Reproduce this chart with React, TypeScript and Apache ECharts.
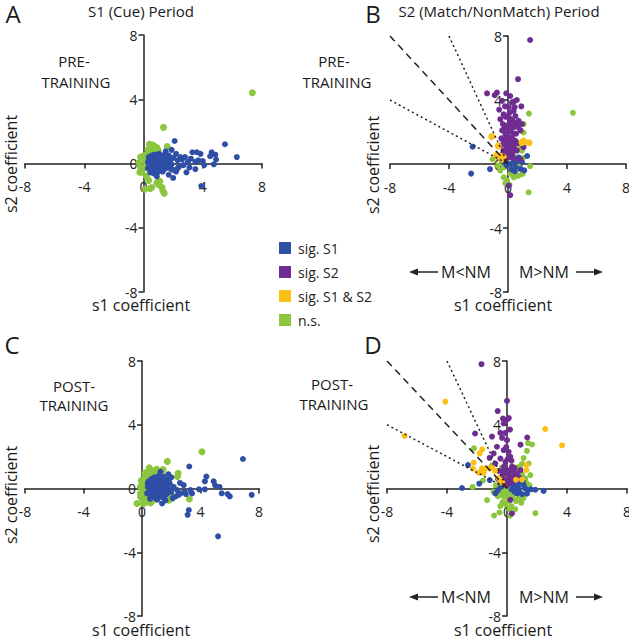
import React, { useEffect, useRef } from "react";
import * as echarts from "echarts";

const FONT = "'Open Sans', 'Noto Sans', sans-serif";
const C_S1 = "#2f4fa6";
const C_S2 = "#6f2c91";
const C_S12 = "#fbbf16";
const C_NS = "#8cc63f";

const CATEGORIES = ["sig. S1", "sig. S2", "sig. S1 & S2", "n.s."];
const AXIS_TICKS = [-8, -4, 0, 4, 8];

// Panel A: S1 (Cue) period, pre-training
const aS1 = [
  [0.3,0.1],[0.4,-0.1],[0.5,0.2],[0.5,-0.3],[0.6,0.0],[0.6,0.4],[0.7,-0.2],[0.7,0.25],[0.8,0.05],[0.8,-0.45],
  [0.9,0.3],[0.9,-0.1],[1.0,0.15],[1.0,-0.3],[1.1,0.45],[1.1,0.0],[1.2,-0.2],[1.2,0.3],[1.3,0.1],[1.3,-0.5],
  [1.4,0.2],[1.4,-0.1],[1.5,0.35],[1.5,-0.3],[1.6,0.05],[1.7,0.5],[1.7,-0.2],[1.8,0.2],[1.9,-0.05],[2.0,0.35],
  [2.0,-0.4],[0.35,0.4],[0.45,-0.55],[0.55,0.5],[0.65,-0.6],[0.75,0.55],[0.85,0.0],[0.95,-0.55],[1.05,0.6],[1.15,-0.45],
  [0.4,0.25],[0.5,-0.15],[0.6,-0.4],[0.7,0.1],[0.8,0.35],[0.9,0.55],[1.0,-0.05],[1.25,0.5],[1.35,-0.35],[1.45,0.5],
  [0.3,-0.3],[0.35,0.0],[1.55,-0.15],[1.65,0.3],[1.75,0.05],[1.85,-0.35],
  [2.1,1.4],[2.2,0.6],[2.3,0.2],[2.4,-0.2],[2.5,0.4],[2.6,0.25],[2.7,-0.1],[2.8,0.4],[2.9,-0.55],[3.0,0.1],
  [3.1,-0.25],[3.2,0.3],[3.3,0.7],[3.5,0.1],[3.5,-0.35],[3.6,0.7],[3.7,0.2],[3.85,0.6],[4.0,0.15],[4.1,-0.1],
  [4.5,0.45],[4.6,0.7],[4.75,-0.05],[4.85,0.55],[4.9,0.25],[5.5,1.2],[6.3,0.4],[3.9,-1.4],[1.7,-0.7],[0.9,-0.8],
  [2.3,-0.3],[2.2,-0.5],[1.9,0.85],[1.5,0.75],[2.0,-0.9]
];
const aNS = [
  [1.35,2.25],[7.35,4.4],[0.4,1.2],[0.7,1.1],[0.9,1.0],[1.0,0.8],[1.6,1.05],[0.5,0.9],[0.75,0.75],[0.3,0.6],
  [0.2,0.35],[-0.2,0.4],[-0.3,0.05],[-0.2,-0.25],[-0.1,-0.55],[0.2,-0.8],[0.35,-1.05],[0.55,-1.5],[0.1,-1.6],[1.0,-1.3],
  [1.25,-1.5],[1.4,-1.85],[0.9,-1.2],[0.8,-0.65],[-0.25,-0.55],[0.1,0.2],[0.15,-0.1],[0.05,0.5],[0.3,0.85],[1.1,-1.1],
  [0.6,1.15],[0.45,-1.55],[1.3,-1.7],[0.0,-0.3],[0.25,0.15]
];

// Panel B: S2 (Match/NonMatch) period, pre-training
const bS1 = [
  [-2.4,1.08],[-2.5,-0.6],[-1.22,-0.32],[1.3,0.5],[0.72,0.41],[0.5,-0.21],[0.84,-0.31],[0.16,0.0],[0.38,0.1],[-0.07,-0.1],
  [0.61,0.21],[-0.41,0.21],[-0.63,0.41],[0.25,-0.35],[0.95,0.1],[-0.2,0.05],[0.45,-0.45],[1.1,-0.4]
];
const bS2 = [
  [1.5,7.75],[0.68,5.3],[-1.42,4.42],[-0.75,4.46],[-0.12,4.42],[0.15,4.25],[-0.4,3.95],[0.27,3.85],[0.4,3.9],[0.9,3.6],
  [0.05,3.55],[0.38,3.32],[-0.3,3.1],[0.5,3.0],[0.72,2.7],[-0.52,2.8],[0.15,2.6],[-0.08,2.4],[0.95,2.5],[0.85,2.1],
  [-0.4,2.1],[-0.18,1.88],[0.38,1.88],[0.15,1.66],[-0.3,1.45],[0.05,1.35],[0.5,1.45],[-0.52,1.15],[-0.07,1.05],[0.27,0.93],
  [-0.3,0.83],[0.05,0.73],[0.38,1.15],[-0.18,0.52],[0.15,0.42],[0.6,0.83],[1.05,1.05],[0.84,0.3],[0.05,-1.35],[0.15,-1.95],
  [-0.2,3.6],[0.1,3.2],[-0.15,2.95],[0.3,2.75],[-0.35,2.5],[0.4,2.3],[0.0,2.2],[-0.25,2.25],[0.2,2.05],[0.55,1.9],
  [-0.1,1.65],[0.3,1.55],[-0.45,1.6],[0.65,1.3],[0.2,1.25],[-0.2,1.2],[0.45,0.95],[-0.1,0.9],[0.15,0.75],[-0.35,0.65],
  [0.3,0.6],[0.0,0.45],[-0.05,1.95],[0.25,2.4],[-0.6,3.4],[0.6,4.0],[-0.9,4.3],[0.45,3.55],[0.1,2.85],[-0.2,1.4],
  [0.05,1.1],[0.35,0.35],[-0.25,0.3],[0.7,2.3],[0.55,2.55]
];
const bS12 = [
  [-1.1,1.72],[-0.66,1.12],[-0.54,0.5],[-0.32,0.44],[-0.77,0.54],[-0.45,0.3],[1.05,1.43],[1.42,1.33],[0.95,1.35]
];
const bNS = [
  [4.4,3.2],[1.42,3.15],[1.06,2.49],[1.06,1.97],[0.84,1.04],[0.95,0.83],[1.02,0.37],[1.5,-0.13],[1.4,-1.77],[-0.52,-0.41],
  [-0.29,-0.83],[0.16,-0.62],[0.5,-0.52],[0.72,-0.73],[0.38,-0.83],[-0.07,-1.04],[-0.18,-1.2],[0.36,0.44],[-1.04,0.29],[-0.43,0.0],
  [0.99,-0.62],[0.6,-0.75],[-0.7,-0.1],[0.2,-0.25],[-0.25,-0.2],[0.1,-1.3],[0.8,-0.15]
];

// Panel C: S1 (Cue) period, post-training
const cS1 = [
  [0.4,0.1],[0.5,-0.2],[0.6,0.3],[0.6,-0.5],[0.7,0.0],[0.8,0.4],[0.8,-0.3],[0.9,0.15],[0.9,-0.6],[1.0,0.5],
  [1.0,-0.1],[1.1,0.25],[1.1,-0.4],[1.2,0.05],[1.2,0.6],[1.3,-0.25],[1.3,0.35],[1.4,-0.55],[1.4,0.1],[1.5,0.45],
  [1.5,-0.15],[1.6,0.2],[1.7,-0.35],[1.7,0.55],[1.8,0.0],[1.9,0.3],[2.0,-0.2],[0.45,0.45],[0.55,-0.65],[0.65,0.6],
  [0.75,-0.15],[0.85,0.7],[0.95,0.35],[1.05,-0.7],[1.15,0.8],[1.25,-0.5],[1.35,0.7],[1.45,0.3],[1.55,-0.45],[1.65,0.0],
  [0.5,0.2],[0.7,-0.4],[0.9,-0.2],[1.1,0.0],[1.3,0.15],[0.35,-0.3],[0.4,0.3],[0.6,0.1],[0.8,0.15],[1.0,0.2],
  [1.2,-0.3],
  [1.26,1.05],[1.48,0.73],[1.83,0.52],[1.71,0.31],[1.94,-0.21],[2.17,0.1],[2.4,-0.1],[2.63,-0.31],[2.85,0.21],[1.37,-0.94],
  [3.31,-0.1],[3.42,-0.31],[3.23,1.38],[4.4,0.75],[4.3,0.45],[4.9,0.45],[5.0,0.2],[5.3,0.1],[5.45,-0.3],[5.85,-0.35],
  [6.0,-0.5],[7.5,-0.4],[6.9,1.85],[4.3,-0.05],[3.9,-0.05],[3.2,-1.35],[3.12,-1.65],[5.2,-3.0],[2.3,-0.5],[2.6,0.35],
  [2.0,0.7],[2.1,-0.6],[2.5,-0.4],[3.0,-0.35],[1.6,-0.75],[1.8,0.9],[2.9,-0.2]
];
const cNS = [
  [4.1,2.3],[1.73,1.7],[2.47,0.96],[2.42,0.75],[3.24,-0.66],[0.5,1.3],[0.57,0.94],[0.46,0.73],[0.11,0.52],[0.0,0.31],
  [-0.11,0.1],[-0.11,-0.31],[0.0,-0.63],[-0.34,-0.94],[0.23,-0.84],[0.46,-0.84],[1.83,-0.73],[2.05,-0.63],[1.14,1.05],[1.37,0.84],
  [1.44,1.19],[0.0,0.25],[0.3,1.0],[0.7,1.1],[0.9,0.9],[0.2,0.7],[0.35,0.3],[0.15,-0.1],[0.25,-0.45],[0.6,-0.9],
  [0.8,-0.7],[-0.1,-0.5],[0.1,-0.95],[0.4,0.6],[0.65,0.8],[1.0,1.2],[2.1,-0.5],[1.6,-0.6],[0.05,0.05],[0.3,-0.7],
  [-0.05,0.5],[0.2,0.95],[0.55,-0.3],[0.15,0.3]
];

// Panel D: S2 (Match/NonMatch) period, post-training
const dS1 = [
  [-2.6,1.47],[-3.0,0.03],[-1.85,0.3],[-1.15,0.53],[0.67,0.31],[0.89,0.63],[1.11,0.21],[1.22,0.0],[1.38,-0.1],[1.89,-0.08],
  [2.44,-0.15],[0.67,-0.31],[0.56,0.0],[1.33,-0.33],[0.33,0.31],[-0.78,-0.31],[0.8,-0.2],[1.0,-0.35],[0.5,-0.2],[0.45,0.15],
  [0.9,0.4],[1.6,-0.05],[0.75,0.05],[-0.4,0.1],[-0.6,-0.1],[0.3,-0.05],[1.05,0.45],[0.6,0.45]
];
const dS2 = [
  [-1.7,7.8],[0.0,5.5],[-0.62,4.86],[-0.27,4.39],[0.0,4.33],[0.12,4.42],[-0.22,4.08],[-2.13,3.45],[-0.44,3.49],[-0.11,3.49],
  [1.35,3.2],[-0.33,3.18],[0.0,3.03],[-0.67,2.62],[-0.22,2.41],[0.11,2.3],[-0.89,2.2],[-1.16,1.92],[-0.44,1.88],[0.22,1.99],
  [-0.78,1.57],[-0.11,1.67],[-0.22,1.36],[0.33,1.36],[0.0,1.15],[0.44,1.05],[0.11,0.84],[-0.33,0.73],[0.56,0.84],[-0.11,0.52],
  [0.22,0.52],[-0.44,0.42],[0.67,0.63],[0.89,1.15],[0.0,0.21],[0.33,-1.57],[0.22,-0.71],[-1.0,3.26],[0.9,2.75],[-0.55,1.1],
  [0.35,0.7],[0.5,1.3],[-0.05,0.95],[0.25,1.15],[0.65,0.95],[-0.3,1.05],[0.15,0.35],[0.45,0.45],[-0.2,0.25],[0.75,0.75],
  [-0.6,0.6],[0.3,1.75],[-0.05,2.6],[0.05,1.85],[0.2,3.7]
];
const dS12 = [
  [-6.83,3.3],[-4.11,5.45],[2.55,3.73],[3.67,2.7],[-1.65,2.46],[-1.82,2.2],[-2.22,1.62],[-1.67,1.26],[-1.44,1.26],[-1.22,1.26],
  [-1.56,0.98],[-0.56,0.65],[-0.44,0.52],[1.3,1.47],[1.3,1.16],[1.0,0.56],[-2.27,1.24],[-1.0,1.3],[-0.8,1.1],[-1.9,1.0],
  [0.6,0.55],[-0.3,0.35]
];
const dNS = [
  [-2.2,2.52],[1.4,2.85],[1.67,2.76],[1.33,2.36],[1.89,-1.55],[-0.86,-1.7],[-2.29,0.1],[-1.33,-0.73],[1.44,1.57],[1.56,0.84],
  [1.22,0.63],[-1.0,1.46],[1.11,1.91],[0.0,-0.2],[0.2,-0.4],[-0.2,-0.5],[0.4,-0.6],[-0.4,-0.3],[0.1,-0.8],[-0.1,-1.0],
  [0.3,-1.1],[0.6,-0.8],[0.8,-0.6],[-0.6,-0.5],[-0.3,-0.85],[0.5,-0.3],[0.0,-0.6],[0.15,-1.3],[-0.15,-0.15],[0.2,0.2],
  [0.4,0.9],[0.6,1.1],[0.9,1.2],[1.0,0.9],[0.75,1.35],[-0.2,0.8],[0.1,1.1],[0.35,1.4],[1.3,0.35],[1.1,-0.6],
  [0.95,-0.9],[-0.75,0.2],[-0.9,-0.2],[0.55,-1.3],[-0.45,-1.1],[0.0,0.05],[0.3,0.0],[-0.1,0.3],[0.7,-0.1],[1.5,0.2],
  [-1.6,0.5],[-0.5,-1.5],[0.2,-1.7],[1.0,1.55],[-0.35,1.3]
];

// Reference lines (slopes) in S2 panels
const refDotted1 = [[-8, 4], [0, 0]];
const refDashed = [[-8, 8], [0, 0]];
const refDotted2 = [[-4, 8], [0, 0]];

const GRIDS = [
  { left: 25, top: 35, width: 237, height: 257 },
  { left: 390, top: 36, width: 236, height: 256 },
  { left: 25, top: 361, width: 234, height: 255 },
  { left: 387, top: 361, width: 240, height: 255 },
];

export default function App() {
  const ref = useRef<HTMLDivElement>(null);
  useEffect(() => {
    if (!ref.current) return;
    const chart = echarts.init(ref.current, null, { renderer: "svg" });
    const axisCommon = {
      type: "value",
      min: AXIS_TICKS[0],
      max: AXIS_TICKS[AXIS_TICKS.length - 1],
      interval: AXIS_TICKS[1] - AXIS_TICKS[0],
      splitLine: { show: false },
      axisLine: { show: true, onZero: false, lineStyle: { color: "#222", width: 1.5 } },
      axisTick: { show: true, length: 5, lineStyle: { color: "#222", width: 1.5 } },
    };
    // axes are centred in each grid (they cross at 0,0)
    const xAxes = GRIDS.map((g, i) => ({
      ...axisCommon,
      gridIndex: i,
      position: "bottom",
      offset: -g.height / 2,
      axisLabel: { margin: 16, fontSize: 14, color: "#222", fontFamily: FONT },
    }));
    const yAxes = GRIDS.map((g, i) => ({
      ...axisCommon,
      gridIndex: i,
      position: "left",
      offset: -g.width / 2,
      axisLabel: { margin: 6, fontSize: 14, color: "#222", fontFamily: FONT },
    }));
    const sc = (name: string, color: string, data: number[][], idx: number, size = 6) => ({
      type: "scatter",
      name,
      xAxisIndex: idx,
      yAxisIndex: idx,
      data,
      symbolSize: size,
      itemStyle: { color, opacity: 1 },
      silent: true,
    });
    const refLine = (data: number[][], idx: number, dash: any) => ({
      type: "line",
      xAxisIndex: idx,
      yAxisIndex: idx,
      data,
      symbol: "none",
      silent: true,
      z: 3,
      lineStyle: { color: "#222", width: 1.5, type: dash },
    });
    const series: any[] = [
      sc(CATEGORIES[3], C_NS, aNS, 0, 7),
      sc(CATEGORIES[0], C_S1, aS1, 0),
      sc(CATEGORIES[3], C_NS, bNS, 1),
      sc(CATEGORIES[0], C_S1, bS1, 1),
      sc(CATEGORIES[1], C_S2, bS2, 1),
      sc(CATEGORIES[2], C_S12, bS12, 1, 7),
      sc(CATEGORIES[3], C_NS, cNS, 2, 7),
      sc(CATEGORIES[0], C_S1, cS1, 2),
      sc(CATEGORIES[3], C_NS, dNS, 3),
      sc(CATEGORIES[0], C_S1, dS1, 3),
      sc(CATEGORIES[1], C_S2, dS2, 3),
      sc(CATEGORIES[2], C_S12, dS12, 3),
      refLine(refDotted1, 1, [2, 3]),
      refLine(refDashed, 1, [7, 5]),
      refLine(refDotted2, 1, [2, 3]),
      refLine(refDotted1, 3, [2, 3]),
      refLine(refDashed, 3, [7, 5]),
      refLine(refDotted2, 3, [2, 3]),
    ];
    const txt = (text: string, x: number, y: number, size: number, extra: any = {}) => ({
      type: "text",
      x,
      y,
      silent: true,
      ...extra,
      style: {
        text,
        fontSize: size,
        fontFamily: FONT,
        fill: "#1a1a1a",
        textAlign: "center",
        textVerticalAlign: "middle",
        align: "center",
        verticalAlign: "middle",
      },
    });
    const arrows = (y: number) => [
      { type: "line", silent: true, shape: { x1: 414, y1: y, x2: 438, y2: y }, style: { stroke: "#222", lineWidth: 1.5 } },
      { type: "polygon", silent: true, shape: { points: [[409, y], [418, y - 3.5], [418, y + 3.5]] }, style: { fill: "#222" } },
      txt("M<NM", 466, y, 16),
      txt("M>NM", 544, y, 16),
      { type: "line", silent: true, shape: { x1: 576, y1: y, x2: 598, y2: y }, style: { stroke: "#222", lineWidth: 1.5 } },
      { type: "polygon", silent: true, shape: { points: [[603, y], [594, y - 3.5], [594, y + 3.5]] }, style: { fill: "#222" } },
    ];
    const rot = { rotation: Math.PI / 2 };
    const graphic: any[] = [
      txt("A", 13, 13, 24),
      txt("S1 (Cue) Period", 141, 11, 15),
      txt("B", 373, 13, 24),
      txt("S2 (Match/NonMatch) Period", 499, 11, 15),
      txt("C", 12, 344, 24),
      txt("D", 373, 344, 24),
      txt("PRE-", 74, 61, 15),
      txt("TRAINING", 76, 82, 15),
      txt("PRE-", 334, 61, 15),
      txt("TRAINING", 337, 82, 15),
      txt("POST-", 74, 386, 15),
      txt("TRAINING", 74, 405, 15),
      txt("POST-", 332, 384, 15),
      txt("TRAINING", 334, 404, 15),
      txt("s2 coefficient", 11, 164, 16, rot),
      txt("s2 coefficient", 373, 165, 16, rot),
      txt("s2 coefficient", 11, 495, 16, rot),
      txt("s2 coefficient", 373, 494, 16, rot),
      txt("s1 coefficient", 141, 305, 16),
      txt("s1 coefficient", 503, 305, 16),
      txt("s1 coefficient", 141, 630, 16),
      txt("s1 coefficient", 503, 630, 16),
      ...arrows(272),
      ...arrows(597),
    ];
    chart.setOption({
      animation: false,
      backgroundColor: "#ffffff",
      grid: GRIDS.map((g) => ({ ...g, containLabel: false, outerBoundsMode: "none" })),
      xAxis: xAxes,
      yAxis: yAxes,
      legend: {
        data: CATEGORIES,
        orient: "vertical",
        left: 274,
        top: 236,
        icon: "rect",
        itemWidth: 12,
        itemHeight: 12,
        itemGap: 10,
        selectedMode: false,
        textStyle: { fontSize: 14, fontFamily: FONT, color: "#222", padding: [0, 0, 0, 2] },
      },
      series,
      graphic,
    });
    return () => chart.dispose();
  }, []);
  return (
    <div
      ref={ref}
      style={{ position: "fixed", left: 0, top: 0, width: 629, height: 639, background: "#fff" }}
    />
  );
}
